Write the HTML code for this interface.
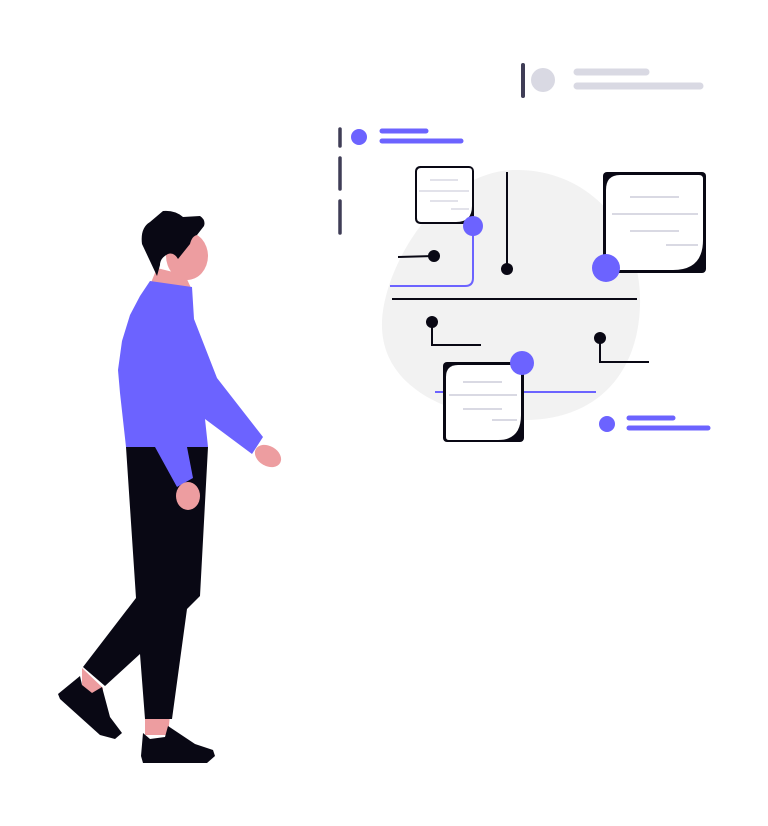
<!DOCTYPE html>
<html><head><meta charset="utf-8"><style>
html,body{margin:0;padding:0;background:#fff;width:768px;height:826px;overflow:hidden}
</style></head><body>
<svg width="768" height="826" viewBox="0 0 768 826" xmlns="http://www.w3.org/2000/svg">
<!-- blob -->
<path d="M513 170 C590 168 642 230 640 305 C638 380 590 422 520 420 C445 418 380 385 382 322 C384 265 440 172 513 170Z" fill="#f2f2f2"/>
<!-- top gray group -->
<line x1="523" y1="65" x2="523" y2="96" stroke="#3f3d56" stroke-width="4" stroke-linecap="round"/>
<circle cx="543" cy="80" r="12" fill="#d9d9e3"/>
<line x1="577" y1="72" x2="646" y2="72" stroke="#d9d9e3" stroke-width="7" stroke-linecap="round"/>
<line x1="577" y1="86" x2="700" y2="86" stroke="#d9d9e3" stroke-width="7" stroke-linecap="round"/>
<!-- purple group top-left -->
<line x1="340" y1="129" x2="340" y2="146" stroke="#3f3d56" stroke-width="3.5" stroke-linecap="round"/>
<line x1="340" y1="158" x2="340" y2="189" stroke="#3f3d56" stroke-width="3.5" stroke-linecap="round"/>
<line x1="340" y1="201" x2="340" y2="233" stroke="#3f3d56" stroke-width="3.5" stroke-linecap="round"/>
<circle cx="359" cy="137" r="8" fill="#6c63ff"/>
<line x1="382" y1="131" x2="426" y2="131" stroke="#6c63ff" stroke-width="5" stroke-linecap="round"/>
<line x1="382" y1="141" x2="461" y2="141" stroke="#6c63ff" stroke-width="5" stroke-linecap="round"/>
<!-- connectors -->
<path d="M473 226 V278 Q473 286 465 286 H390" fill="none" stroke="#6c63ff" stroke-width="2"/>
<line x1="398" y1="257" x2="434" y2="256" stroke="#090814" stroke-width="2"/>
<circle cx="434" cy="256" r="6" fill="#090814"/>
<line x1="507" y1="172" x2="507" y2="268" stroke="#090814" stroke-width="2"/>
<circle cx="507" cy="269" r="6" fill="#090814"/>
<line x1="392" y1="299" x2="637" y2="299" stroke="#090814" stroke-width="2"/>
<path d="M432 322 V345 H481" fill="none" stroke="#090814" stroke-width="2"/>
<circle cx="432" cy="322" r="6" fill="#090814"/>
<path d="M600 338 V362 H649" fill="none" stroke="#090814" stroke-width="2"/>
<circle cx="600" cy="338" r="6" fill="#090814"/>
<line x1="435" y1="392" x2="596" y2="392" stroke="#6c63ff" stroke-width="2"/>
<!-- small doc -->
<rect x="415" y="166" width="59" height="58" rx="5" fill="#090814"/>
<path d="M421 168 H469 Q472 168 472 171 V206 Q472 222 456 222 H421 Q417 222 417 218 V172 Q417 168 421 168Z" fill="#fff"/>
<g stroke="#d9d9e3" stroke-width="1.5"><line x1="430" y1="180" x2="458" y2="180"/><line x1="419" y1="191" x2="469" y2="191"/><line x1="430" y1="201" x2="458" y2="201"/><line x1="451" y1="209" x2="469" y2="209"/></g>
<circle cx="473" cy="226" r="10" fill="#6c63ff"/>
<!-- big doc -->
<rect x="603" y="172" width="103" height="101" rx="4" fill="#090814"/>
<path d="M620 175 H699 Q703 175 703 179 V240 Q703 270 673 270 H610 Q606 270 606 266 V190 Q606 175 620 175Z" fill="#fff"/>
<g stroke="#d9d9e3" stroke-width="2"><line x1="630" y1="197" x2="679" y2="197"/><line x1="612" y1="214" x2="698" y2="214"/><line x1="630" y1="231" x2="679" y2="231"/><line x1="666" y1="245" x2="698" y2="245"/></g>
<circle cx="606" cy="268" r="14" fill="#6c63ff"/>
<!-- bottom doc -->
<rect x="443" y="362" width="81" height="80" rx="4" fill="#090814"/>
<path d="M458 365 H518 Q521 365 521 368 V415 Q521 440 498 440 H449 Q446 440 446 437 V377 Q446 365 458 365Z" fill="#fff"/>
<g stroke="#d9d9e3" stroke-width="2"><line x1="463" y1="382" x2="502" y2="382"/><line x1="449" y1="395" x2="517" y2="395"/><line x1="463" y1="409" x2="502" y2="409"/><line x1="492" y1="420" x2="517" y2="420"/></g>
<circle cx="522" cy="363" r="12" fill="#6c63ff"/>
<!-- bottom purple group -->
<circle cx="607" cy="424" r="8" fill="#6c63ff"/>
<line x1="629" y1="418" x2="673" y2="418" stroke="#6c63ff" stroke-width="5" stroke-linecap="round"/>
<line x1="629" y1="428" x2="708" y2="428" stroke="#6c63ff" stroke-width="5" stroke-linecap="round"/>
<!-- person -->
<polygon points="82,668 103,688 103,695 82,695" fill="#ed9da0"/>
<polygon points="145,715 170,715 168,735 145,735" fill="#ed9da0"/>
<polygon points="157,268 185,275 192,290 150,285" fill="#ed9da0"/>
<ellipse cx="187" cy="256" rx="21" ry="24" fill="#ed9da0"/>
<path d="M157 276 L142 244 Q140 228 150 222 L163 211 Q175 210 183 217 L200 216 Q206 220 204 226 L197 235 Q192 236 190 244 L178 259 Q174 252 168 254 Q160 258 160 265 Z" fill="#090814"/>
<polygon points="126,447 208,447 200,596 187,609 172,719 145,719 140,654 105,686 83,667 136,598" fill="#090814"/>
<polygon points="150,281 192,287 194,319 217,378 263,437 252,454 205,419 208,447 126,447 120,393 118,370 122,341 130,315 140,296" fill="#6c63ff"/>
<polygon points="155,447 177,487 193,478 187,447" fill="#6c63ff"/>
<ellipse cx="188" cy="496" rx="12" ry="14" fill="#ed9da0"/>
<ellipse cx="268" cy="456" rx="14" ry="10" transform="rotate(30 268 456)" fill="#ed9da0"/>
<polygon points="58,694 80,676 82,685 92,693 102,687 110,717 122,733 115,739 100,735 60,699" fill="#090814"/>
<polygon points="143,733 150,739 165,737 168,726 195,744 213,750 215,756 207,763 143,763 141,756" fill="#090814"/>
</svg>
</body></html>
